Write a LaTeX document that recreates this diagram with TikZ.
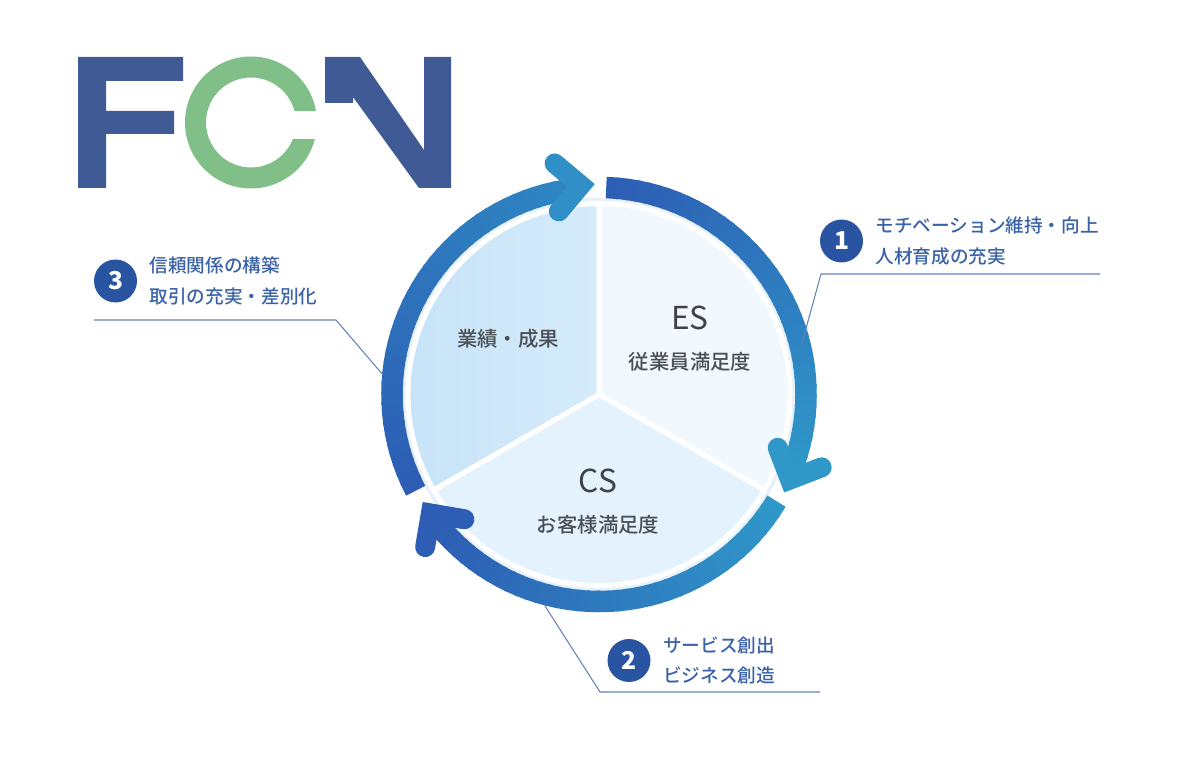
\documentclass[tikz,border=0pt]{standalone}
\usepackage{fontspec}
\setmainfont{Noto Sans CJK JP}
\newfontfamily\mediumfont{Noto Sans CJK JP Medium}
\usetikzlibrary{positioning,calc}
\definecolor{logocol}{HTML}{3F5A94}
\definecolor{greencol}{HTML}{80BF88}
\definecolor{ringdark}{HTML}{2D5DB4}
\definecolor{ringteal}{HTML}{2F98C9}
\definecolor{notecol}{HTML}{3A62A8}
\definecolor{leadcol}{HTML}{6482BA}
\definecolor{piegrey}{HTML}{4A4F55}
\definecolor{halocol}{HTML}{E9F1F8}
\definecolor{escol}{HTML}{F1F8FE}
\definecolor{cscol}{HTML}{E3F2FC}
\definecolor{resleft}{HTML}{C5E2F7}
\definecolor{resright}{HTML}{D6ECFB}
\tikzset{
  x=.02cm, y=.02cm,
  ring part/.style = {line width=.43cm},
  ring head/.style = {line width=.4cm, line cap=round, line join=miter},
  sector/.style = {draw=white, line width=.1cm},
  leader/.style = {leadcol, line width=.6pt},
  badge/.style = {
    circle, fill=ringdark!90!black, text=white,
    minimum size=.86cm, inner sep=0pt,
    font=\fontsize{14pt}{14pt}\selectfont\bfseries},
  note/.style = {
    text=notecol, align=left, inner sep=0pt,
    font=\fontsize{10.6pt}{17.6pt}\selectfont\mediumfont},
  bigname/.style = {text=piegrey!85!black, inner sep=0pt, font=\fontsize{18pt}{18pt}\selectfont},
  subname/.style = {text=piegrey, inner sep=0pt, font=\fontsize{11.6pt}{12pt}\selectfont\mediumfont}
}
% arc in small pieces for the colour run: start angle, end angle, start mix, end mix
\newcommand{\ringarc}[4]{
  \foreach \k in {0,...,39} {
    \pgfmathsetmacro{\angA}{#1+(#2-(#1))*\k/40}
    \pgfmathsetmacro{\angB}{#1+(#2-(#1))*(\k+1.3)/40}
    \pgfmathsetmacro{\mixv}{#3+(#4-(#3))*\k/39}
    \draw[ring part, ringteal!\mixv!ringdark] ($(pie)+(\angA:207)$)
      arc[start angle=\angA, end angle=\angB, radius=207];
  }
}
% arrow head: angle of the corner, radius of the corner, mix
\newcommand{\ringhead}[3]{
  \draw[ring head, ringteal!#3!ringdark]
    ($(pie)+(#1:#2)+(#1-90+180-45:34)$) -- ($(pie)+(#1:#2)$) -- ($(pie)+(#1:#2)+(#1-90+180+45:34)$);
}
\begin{document}
\begin{tikzpicture}
    \useasboundingbox (0,-776) rectangle (1200,0);

    % logo
    \fill[logocol] (78,-57) -- (183,-57) -- (183,-81) -- (106,-81) -- (106,-111) -- (174,-111)
      -- (174,-134) -- (106,-134) -- (106,-188) -- (78,-188) -- cycle;
    \coordinate (logoc) at (251,-122.5);
    \fill[greencol] ($(logoc)+(10:66)$) arc[start angle=10, end angle=345.5, radius=66]
      -- ($(logoc)+(338.5:45)$) arc[start angle=338.5, end angle=14.8, radius=45] -- cycle;
    \fill[logocol] (325,-57) -- (360,-57) -- (424,-150) -- (424,-57) -- (451,-57) -- (451,-188)
      -- (419,-188) -- (353,-97) -- (353,-103) -- (325,-103) -- cycle;

    % pie
    \coordinate (pie) at (599,-394.5);
    \fill[halocol] (pie) circle[radius=197];
    \path[sector, fill=escol] (pie) -- ($(pie)+(90:191)$) arc[start angle=90, end angle=-30, radius=191] -- cycle;
    \path[sector, fill=cscol] (pie) -- ($(pie)+(-30:191)$) arc[start angle=-30, end angle=-150, radius=191] -- cycle;
    \path[sector, left color=resleft, right color=resright] (pie) -- ($(pie)+(210:191)$)
      arc[start angle=210, end angle=90, radius=191] -- cycle;

    \node[bigname] (es) at (690,-318) {ES};
    \node[subname, below=25pt of es.center, anchor=center] (essub) {従業員満足度};
    \node[bigname] (cs) at (598,-481) {CS};
    \node[subname, below=25pt of cs.center, anchor=center] (cssub) {お客様満足度};
    \node[subname] (res) at (508,-339) {業績・成果};

    % ring
    \ringarc{88}{-22}{0}{100}
    \ringhead{-24}{209}{100}
    \ringarc{-31}{-143}{100}{0}
    \ringhead{215.3}{206}{0}
    \ringarc{207.7}{97}{0}{70}
    \ringhead{95}{210}{85}

    % notes
    \node[badge] (one) at (841.5,-241) {1};
    \node[note, right=.24cm of one] (onetext) {モチベーション維持・向上\\人材育成の充実};
    \node[badge] (two) at (629,-660.5) {2};
    \node[note, right=.24cm of two] (twotext) {サービス創出\\ビジネス創造};
    \node[badge] (three) at (115.5,-281) {3};
    \node[note, right=.24cm of three] (threetext) {信頼関係の構築\\取引の充実・差別化};

    % Paths
    \coordinate (onetail) at (1100,-274);
    \coordinate (onebend) at (821,-274);
    \coordinate (oneend) at (802,-343);
    \coordinate (twotail) at (820,-692);
    \coordinate (twobend) at (600,-692);
    \coordinate (twoend) at (545,-606);
    \coordinate (threetail) at (94,-320);
    \coordinate (threebend) at (336,-320);
    \coordinate (threeend) at (383,-375);
    \draw[leader] (onetail) -- (onebend) -- (oneend);
    \draw[leader] (twotail) -- (twobend) -- (twoend);
    \draw[leader] (threetail) -- (threebend) -- (threeend);
\end{tikzpicture}
\end{document}
